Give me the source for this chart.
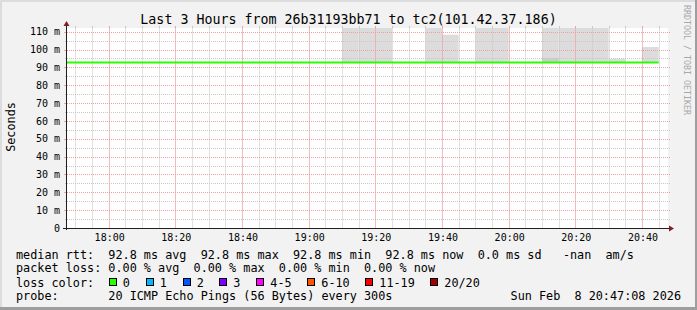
<!DOCTYPE html>
<html>
<head>
<meta charset="utf-8">
<script src="https://cdn.jsdelivr.net/npm/d3@7"></script>
<style>
  html, body { margin: 0; padding: 0; background: #f2f2f2; }
  svg { display: block; }
  text { font-family: "DejaVu Sans Mono", monospace; fill: #000; }
</style>
</head>
<body>
<div id="chart"></div>
<script>
// Data

const titleText = "Last 3 Hours from 26b31193bb71 to tc2(101.42.37.186)";
const yLabel = "Seconds";

// median rtt in ms, one value per 5 minute slot (slot end time)
const slotTimes = [
  "17:45", "17:50", "17:55", "18:00", "18:05", "18:10", "18:15", "18:20", "18:25",
  "18:30", "18:35", "18:40", "18:45", "18:50", "18:55", "19:00", "19:05", "19:10",
  "19:15", "19:20", "19:25", "19:30", "19:35", "19:40", "19:45", "19:50", "19:55",
  "20:00", "20:05", "20:10", "20:15", "20:20", "20:25", "20:30", "20:35", "20:40",
  "20:45",
];
const medianRtt = slotTimes.map(() => 92.8);

// smoke (spread of the pings): slot end time, low and high edge in ms
const smokeTimes = [
  "19:15", "19:20", "19:25", "19:40", "19:45", "19:55", "20:00",
  "20:15", "20:20", "20:25", "20:30", "20:35", "20:45",
];
const smokeLow = [92.5, 92.5, 92.5, 92.5, 92.5, 92.5, 92.5, 92.5, 92.5, 92.5, 92.5, 92.5, 92.5];
const smokeHigh = [118, 118, 118, 118, 108.3, 118, 118, 118, 118, 118, 118, 94.9, 101.4];
// darker inner smoke near the median
const innerTimes = ["20:15"];
const innerHigh = [95.3];

const yTicks = [0, 10, 20, 30, 40, 50, 60, 70, 80, 90, 100, 110];
const xTicks = ["18:00", "18:20", "18:40", "19:00", "19:20", "19:40", "20:00", "20:20", "20:40"];

const lossLabels = ["0", "1", "2", "3", "4-5", "6-10", "11-19", "20/20"];
const lossColors = ["#26ff00", "#00b8ff", "#0059ff", "#7e00ff", "#ff00ff", "#ff5500", "#ff0000", "#a00000"];

const rttLine = "median rtt:  92.8 ms avg  92.8 ms max  92.8 ms min  92.8 ms now  0.0 ms sd   -nan  am/s";
const lossLine = "packet loss: 0.00 % avg  0.00 % max  0.00 % min  0.00 % now";
const probeLine = "probe:       20 ICMP Echo Pings (56 Bytes) every 300s";
const dateLine = "Sun Feb  8 20:47:08 2026";
const watermark = "RRDTOOL / TOBI OETIKER";

// Setup

const width = 697;
const height = 310;
const plot = { left: 67, right: 667, top: 28, bottom: 228 };

const parseTime = (s) => {
  const [h, m] = s.split(":").map(Number);
  return new Date(2026, 1, 8, h, m, 0);
};

const xScale = d3
  .scaleTime()
  .domain([new Date(2026, 1, 8, 17, 47, 30), new Date(2026, 1, 8, 20, 47, 30)])
  .range([plot.left, plot.right]);

const yScale = d3
  .scaleLinear()
  .domain([0, 200 / 1.7845])
  .range([plot.bottom, plot.top]);

const svg = d3
  .select("#chart")
  .append("svg")
  .attr("width", width)
  .attr("height", height);

// Background and border

svg.append("rect").attr("width", width).attr("height", height).attr("fill", "#f2f2f2");
svg.append("rect").attr("x", 0).attr("y", 0).attr("width", width).attr("height", 2).attr("fill", "#dcdcdc");
svg.append("rect").attr("x", 0).attr("y", 0).attr("width", 2).attr("height", height).attr("fill", "#dcdcdc");
svg.append("rect").attr("x", width - 2).attr("y", 0).attr("width", 2).attr("height", height).attr("fill", "#9e9e9e");
svg.append("rect").attr("x", 0).attr("y", height - 3).attr("width", width).attr("height", 3).attr("fill", "#9e9e9e");

svg
  .append("rect")
  .attr("x", plot.left)
  .attr("y", plot.top)
  .attr("width", plot.right - plot.left + 1)
  .attr("height", plot.bottom - plot.top)
  .attr("fill", "#ffffff");

svg
  .append("clipPath")
  .attr("id", "plot-clip")
  .append("rect")
  .attr("x", plot.left)
  .attr("y", plot.top)
  .attr("width", plot.right - plot.left)
  .attr("height", plot.bottom - plot.top);

// Smoke

const slotWidth = 5 * 60 * 1000;
const smoke = smokeTimes.map((t, i) => ({ end: parseTime(t), lo: smokeLow[i], hi: smokeHigh[i] }));
const inner = innerTimes.map((t, i) => ({ end: parseTime(t), lo: 92.5, hi: innerHigh[i] }));

const smokeG = svg.append("g").attr("clip-path", "url(#plot-clip)");

smokeG
  .selectAll("rect.smoke")
  .data(smoke)
  .enter()
  .append("rect")
  .attr("class", "smoke")
  .attr("x", (d) => xScale(new Date(d.end - slotWidth)))
  .attr("width", (d) => xScale(d.end) - xScale(new Date(d.end - slotWidth)))
  .attr("y", (d) => yScale(d.hi))
  .attr("height", (d) => yScale(d.lo) - yScale(d.hi))
  .attr("fill", "#dcdcdc");

smokeG
  .selectAll("rect.inner")
  .data(inner)
  .enter()
  .append("rect")
  .attr("class", "inner")
  .attr("x", (d) => xScale(new Date(d.end - slotWidth)))
  .attr("width", (d) => xScale(d.end) - xScale(new Date(d.end - slotWidth)))
  .attr("y", (d) => yScale(d.hi))
  .attr("height", (d) => yScale(d.lo) - yScale(d.hi))
  .attr("fill", "#cdcdcd");

// Grid

const minorX = d3.timeMinute.every(5).range(xScale.domain()[0], xScale.domain()[1])
  .filter((d) => d.getMinutes() % 20 !== 0);
const majorX = xTicks.map(parseTime);
const minorY = d3.range(5, 112, 10);
const majorY = yTicks.filter((v) => v > 0);

const minorColor = "#c8c8c8";
const majorColor = "#f0a0a0";

const grid = svg.append("g").attr("shape-rendering", "crispEdges");

function hLines(values, color) {
  grid
    .append("g")
    .selectAll("line")
    .data(values)
    .enter()
    .append("line")
    .attr("x1", plot.left - 2)
    .attr("x2", plot.right + 3)
    .attr("y1", (d) => Math.round(yScale(d)) + 0.5)
    .attr("y2", (d) => Math.round(yScale(d)) + 0.5)
    .attr("stroke", color)
    .attr("stroke-dasharray", "1,1");
}

function vLines(values, color, opacity) {
  const g = grid.append("g");
  const px = (d) => Math.round(xScale(d)) + 0.5;
  // light body, solid short ticks at the top end
  g.selectAll("line.body")
    .data(values)
    .enter()
    .append("line")
    .attr("class", "body")
    .attr("x1", px)
    .attr("x2", px)
    .attr("y1", plot.bottom)
    .attr("y2", plot.top)
    .attr("stroke", color)
    .attr("stroke-opacity", opacity);
  g.selectAll("line.tick")
    .data(values)
    .enter()
    .append("line")
    .attr("class", "tick")
    .attr("x1", px)
    .attr("x2", px)
    .attr("y1", plot.top)
    .attr("y2", plot.top - 2)
    .attr("stroke", color);
}

hLines(minorY, minorColor);
vLines(minorX, minorColor, 0.55);
hLines(majorY, majorColor);
vLines(majorX, majorColor, 0.7);

// small solid ticks left of the y axis
svg
  .append("g")
  .attr("shape-rendering", "crispEdges")
  .selectAll("line")
  .data(majorY)
  .enter()
  .append("line")
  .attr("x1", plot.left - 3)
  .attr("x2", plot.left)
  .attr("y1", (d) => Math.round(yScale(d)) + 0.5)
  .attr("y2", (d) => Math.round(yScale(d)) + 0.5)
  .attr("stroke", majorColor);

// Median line

const medianData = slotTimes.map((t, i) => ({ t: parseTime(t), v: medianRtt[i] }));

svg
  .append("path")
  .datum(medianData)
  .attr("clip-path", "url(#plot-clip)")
  .attr("fill", "none")
  .attr("stroke", lossColors[0])
  .attr("stroke-width", 2)
  .attr(
    "d",
    d3
      .line()
      .curve(d3.curveStepBefore)
      .x((d) => xScale(d.t))
      .y((d) => yScale(d.v))
  );

// Axes

const axisColor = "#1f1f1f";
const arrowColor = "#801f1f";

svg
  .append("line")
  .attr("x1", plot.left - 0.5)
  .attr("x2", plot.left - 0.5)
  .attr("y1", plot.bottom + 2)
  .attr("y2", plot.top - 4)
  .attr("stroke", axisColor)
  .attr("shape-rendering", "crispEdges");

svg
  .append("line")
  .attr("x1", plot.left - 4)
  .attr("x2", plot.right + 3)
  .attr("y1", plot.bottom + 0.5)
  .attr("y2", plot.bottom + 0.5)
  .attr("stroke", axisColor)
  .attr("shape-rendering", "crispEdges");

svg
  .append("path")
  .attr("d", `M${plot.left - 3.5},${plot.top - 2} L${plot.left + 2.5},${plot.top - 2} L${plot.left - 0.5},${plot.top - 7} Z`)
  .attr("fill", arrowColor);

svg
  .append("path")
  .attr("d", `M${plot.right + 2},${plot.bottom - 2.5} L${plot.right + 2},${plot.bottom + 3.5} L${plot.right + 7},${plot.bottom + 0.5} Z`)
  .attr("fill", arrowColor);

// Tick labels

svg
  .append("g")
  .selectAll("text")
  .data(yTicks)
  .enter()
  .append("text")
  .attr("x", 60)
  .attr("y", (d) => yScale(d) + 3.6)
  .attr("text-anchor", "end")
  .attr("font-size", "10px")
  .text((d) => (d === 0 ? "0" : `${d} m`));

svg
  .append("g")
  .selectAll("text")
  .data(majorX)
  .enter()
  .append("text")
  .attr("x", (d) => xScale(d) + 1)
  .attr("y", 241)
  .attr("text-anchor", "middle")
  .attr("font-size", "10px")
  .text((d) => d3.timeFormat("%H:%M")(d));

// Titles

svg
  .append("text")
  .attr("x", 348.5)
  .attr("y", 23.7)
  .attr("text-anchor", "middle")
  .attr("font-size", "13.3px")
  .text(titleText);

svg
  .append("text")
  .attr("transform", "translate(15, 127) rotate(-90)")
  .attr("text-anchor", "middle")
  .attr("font-size", "11.8px")
  .text(yLabel);

svg
  .append("text")
  .attr("transform", "translate(684, 5) rotate(90)")
  .attr("font-size", "8.3px")
  .style("fill", "#a8a8a8")
  .text(watermark);

// Legend

const legendFont = "11.8px";

const legendRows = [
  { text: rttLine, y: 258.5 },
  { text: lossLine, y: 272.3 },
  { text: "loss color:", y: 286.5 },
  { text: probeLine, y: 300 },
];

svg
  .append("g")
  .selectAll("text")
  .data(legendRows)
  .enter()
  .append("text")
  .attr("x", 16)
  .attr("y", (d) => d.y)
  .attr("font-size", legendFont)
  .attr("xml:space", "preserve")
  .style("white-space", "pre")
  .text((d) => d.text);

svg
  .append("text")
  .attr("x", 681)
  .attr("y", 300)
  .attr("text-anchor", "end")
  .attr("font-size", legendFont)
  .style("white-space", "pre")
  .text(dateLine);

const boxX = [108.7, 145.7, 182.7, 219.3, 256.3, 307.3, 365.3, 430.3];

const lossItems = svg
  .append("g")
  .selectAll("g")
  .data(lossLabels)
  .enter()
  .append("g");

lossItems
  .append("rect")
  .attr("x", (d, i) => Math.round(boxX[i]) + 0.5)
  .attr("y", 278.5)
  .attr("width", 7)
  .attr("height", 7)
  .attr("fill", (d, i) => lossColors[i])
  .attr("stroke", "#000");

lossItems
  .append("text")
  .attr("x", (d, i) => boxX[i] + 14)
  .attr("y", 286.5)
  .attr("font-size", legendFont)
  .text((d) => d);
</script>
</body>
</html>
